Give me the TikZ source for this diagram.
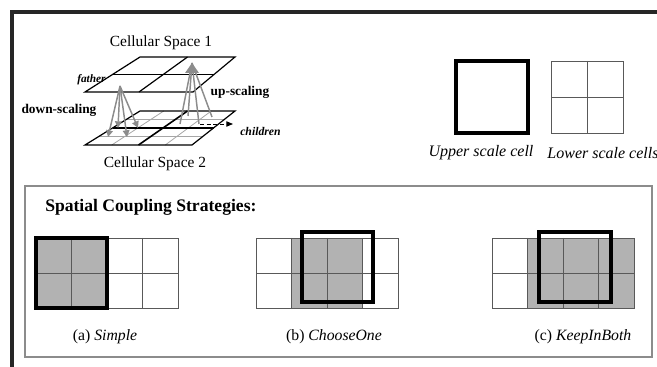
\documentclass[tikz,border=0pt]{standalone}
\usepackage{fontspec}
\setmainfont{Liberation Serif}
\usetikzlibrary{arrows.meta,calc}
\tikzset{
  frameline/.style={line width=3pt, black!85},
  panel/.style={draw=black!45, line width=0.8pt},
  gridline/.style={draw=black!65, line width=0.7pt},
  finegrid/.style={draw=black!35, line width=0.6pt},
  planeline/.style={draw=black, line width=0.9pt},
  midline/.style={draw=black, line width=1.2pt},
  bigcell/.style={draw=black, line width=2.5pt},
  shade/.style={fill=black!30},
  scalearrow/.style={draw=black!45, line width=1.1pt, -{Triangle[length=5pt,width=5pt]}},
  caption/.style={font=\fontsize{11.8}{14}\selectfont, inner sep=0pt},
  lbl/.style={inner sep=0pt}
}
\begin{document}
\begin{tikzpicture}[x=0.75pt,y=-0.75pt]
\useasboundingbox (0,0) rectangle (657,367);

% outer frame (top and left edges)
\draw[frameline] (12,367) -- (12,12) -- (657,12);

% ---------- two-level cellular space ----------
\node[lbl, font=\fontsize{11.6}{14}\selectfont] (cs1) at (161,43) {Cellular Space 1};
\node[lbl, font=\fontsize{11.6}{14}\selectfont] (cs2) at (155,164) {Cellular Space 2};

% lower plane, 4x4 sub-cells
\coordinate (lTL) at (140,111);
\coordinate (lTR) at (235,111);
\coordinate (lBR) at (192,145);
\coordinate (lBL) at (85,145);
\foreach \t in {0.25,0.75}{
  \draw[finegrid] ($(lTL)!\t!(lBL)$) -- ($(lTR)!\t!(lBR)$);
  \draw[finegrid] ($(lTL)!\t!(lTR)$) -- ($(lBL)!\t!(lBR)$);
}
\draw[midline] ($(lTL)!0.5!(lBL)$) -- ($(lTR)!0.5!(lBR)$);
\draw[midline] ($(lTL)!0.5!(lTR)$) -- ($(lBL)!0.5!(lBR)$);
\draw[planeline] (lTL) -- (lTR) -- (lBR) -- (lBL) -- cycle;

% upper plane, 2x2 cells
\coordinate (uTL) at (140,57);
\coordinate (uTR) at (235,57);
\coordinate (uBR) at (193,92);
\coordinate (uBL) at (85,92);
\node[lbl, anchor=west, font=\fontsize{8.5}{10}\itshape\bfseries] (fa) at (77,80) {father};
\draw[planeline] ($(uTL)!0.5!(uBL)$) -- ($(uTR)!0.5!(uBR)$);
\draw[planeline] ($(uTL)!0.5!(uTR)$) -- ($(uBL)!0.5!(uBR)$);
\draw[planeline] (uTL) -- (uTR) -- (uBR) -- (uBL) -- cycle;

% down-scaling: father to its four children
\coordinate (dn) at (120,86);
\coordinate (c1) at (118,128);
\coordinate (c2) at (138,128);
\coordinate (c3) at (108,137);
\coordinate (c4) at (127,137);
\foreach \c in {c1,c2,c3,c4}
  \draw[scalearrow] (dn) -- (\c);

% up-scaling: children to father
\coordinate (up) at (192,63);
\coordinate (k1) at (180,124);
\coordinate (k2) at (188,116);
\coordinate (k3) at (199,124);
\coordinate (k4) at (212,117);
\foreach \k in {k1,k2,k3,k4}
  \draw[draw=black!45, line width=1.1pt] (\k) -- (up);
\fill[black!45] (up) -- ++(-7,10) -- ++(14,0) -- cycle;

\node[lbl, font=\fontsize{10}{12}\bfseries\selectfont] (ds) at (59,110) {down-scaling};
\node[lbl, font=\fontsize{10}{12}\bfseries\selectfont] (us) at (240,92) {up-scaling};

\coordinate (cs) at (200,124);
\node[lbl, anchor=west, font=\fontsize{8.8}{10}\itshape\bfseries] (ch) at (240,131) {children};
\coordinate (ce) at (233,124);
\draw[densely dashed, line width=0.7pt, -{Triangle[length=5pt,width=4pt]}] (cs) -- (ce);

% ---------- legend ----------
\draw[bigcell] (456,61) rectangle (528,133);
\draw[gridline] (551,61) rectangle (623,133);
\draw[gridline] (587,61) -- (587,133);
\draw[gridline] (551,97) -- (623,97);
\node[caption, font=\fontsize{12}{14}\itshape] (uc) at (481,153) {Upper scale cell};
\node[caption, font=\fontsize{12}{14}\itshape] (lc) at (603,153) {Lower scale cells};

% ---------- coupling strategies panel ----------
\draw[panel] (25,186) rectangle (652,357);
\node[lbl, anchor=west, font=\fontsize{13.2}{16}\bfseries\selectfont] (title) at (45,207) {Spatial Coupling Strategies:};

% (a) Simple
\fill[shade] (36,238) rectangle (107,308);
\foreach \i in {1,2,3} \draw[gridline] (36+35.5*\i,238) -- (36+35.5*\i,308);
\draw[gridline] (36,273) -- (178,273);
\draw[gridline] (36,238) rectangle (178,308);
\draw[bigcell] (36,238) rectangle (107,308);
\node[caption] (la) at (105,337) {(a) \textit{Simple}};

% (b) ChooseOne
\fill[shade] (291.5,238) rectangle (362.5,308);
\foreach \i in {1,2,3} \draw[gridline] (256+35.5*\i,238) -- (256+35.5*\i,308);
\draw[gridline] (256,273) -- (398,273);
\draw[gridline] (256,238) rectangle (398,308);
\draw[bigcell] (302,232) rectangle (373,302);
\node[caption] (lb) at (334,337) {(b) \textit{ChooseOne}};

% (c) KeepInBoth
\fill[shade] (527.5,238) rectangle (634,308);
\foreach \i in {1,2,3} \draw[gridline] (492+35.5*\i,238) -- (492+35.5*\i,308);
\draw[gridline] (492,273) -- (634,273);
\draw[gridline] (492,238) rectangle (634,308);
\draw[bigcell] (539,232) rectangle (611,302);
\node[caption] (lcc) at (583,337) {(c) \textit{KeepInBoth}};
\end{tikzpicture}
\end{document}
